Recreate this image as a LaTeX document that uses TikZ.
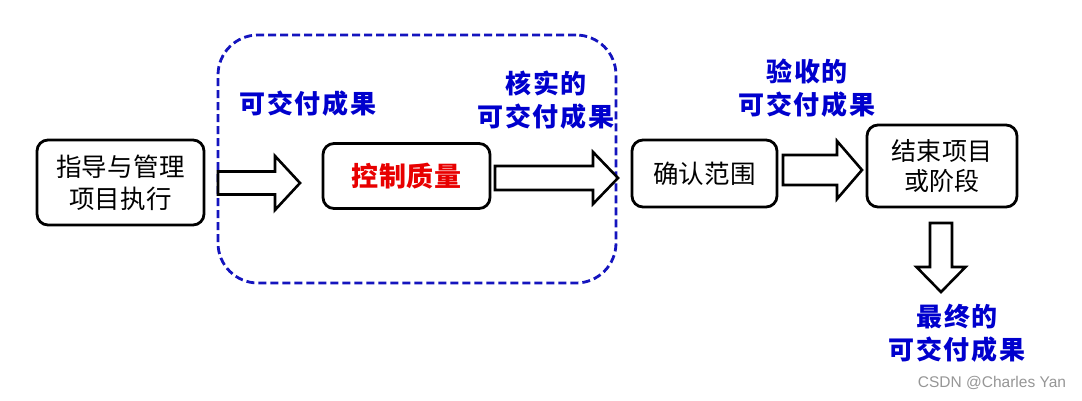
\documentclass[tikz,border=0pt]{standalone}
\usepackage{fontspec}
\setsansfont{Liberation Sans}
\newfontfamily\cjk[LetterSpace=1]{Noto Sans CJK SC}
\newfontfamily\cjkbox[LetterSpace=3]{Noto Sans CJK SC}
\newfontfamily\cjklab[LetterSpace=7]{Noto Sans CJK SC}
\definecolor{dblue}{RGB}{0,0,205}
\definecolor{dashblue}{RGB}{20,20,190}
\definecolor{qred}{RGB}{232,0,0}
\definecolor{wm}{RGB}{150,150,150}
\newcommand{\blkR}[6]{% x1, xb, x2, yc, half shaft, half head
  \draw[blockarrow] (#1,#4-#5) -- (#2,#4-#5) -- (#2,#4-#6) -- (#3,#4) -- (#2,#4+#6) -- (#2,#4+#5) -- (#1,#4+#5) -- cycle;}
\newcommand{\blkD}[6]{% y1, yb, y2, xc, half shaft, half head
  \draw[blockarrow] (#4-#5,#1) -- (#4-#5,#2) -- (#4-#6,#2) -- (#4,#3) -- (#4+#6,#2) -- (#4+#5,#2) -- (#4+#5,#1) -- cycle;}
\begin{document}
\begin{tikzpicture}[x=1pt,y=-1pt,
  procbox/.style={draw=black,line width=2.8pt,rounded corners=11pt,fill=white,align=center,inner sep=0pt},
  blockarrow/.style={draw=black,line width=2.6pt,fill=white,line join=miter},
  bluelab/.style={text=dblue,align=center,font=\cjklab\bfseries\fontsize{26}{33}\selectfont,inner sep=0pt},
  boxtxt/.style={font=\cjk\fontsize{25.5}{32}\selectfont}
]
\useasboundingbox (0,0) rectangle (1082,400);
\fill[white] (0,0) rectangle (1082,400);
% dashed group
\node[draw=dashblue,line width=2.8pt,dash pattern=on 8pt off 4pt,rounded corners=40pt,
  minimum width=398pt,minimum height=248pt,inner sep=0pt] (grp) at (417,159) {};
% boxes
\node[procbox,minimum width=167pt,minimum height=85pt,boxtxt] (b1) at (120.5,182.5) {指导与管理\\项目执行};
\node[procbox,minimum width=167pt,minimum height=65pt,text=qred,font=\cjkbox\bfseries\fontsize{27}{30}\selectfont] (b2) at (406.5,176) {控制质量};
\node[procbox,minimum width=145pt,minimum height=67pt,font=\cjk\fontsize{25.5}{30}\selectfont] (b3) at (704.5,173.5) {确认范围};
\node[procbox,minimum width=150pt,minimum height=82pt,font=\cjk\fontsize{25}{30}\selectfont] (b4) at (942,166) {结束项目\\或阶段};
% block arrows
\blkR{218}{275}{300}{183}{11.5}{27}
\blkR{495}{593}{618}{178}{12}{26}
\blkR{783}{837}{862}{170}{15}{29}
\blkD{223}{267}{292}{941}{11}{24.5}
% labels
\node[bluelab] (l1) at (308,104) {可交付成果};
\node[bluelab] (l2) at (546,100) {核实的\\可交付成果};
\node[bluelab] (l3) at (807,88.5) {验收的\\可交付成果};
\node[bluelab] (l4) at (957,333.5) {最终的\\可交付成果};
\node[text=wm,font=\sffamily\fontsize{15.5}{18}\selectfont,inner sep=0pt] (wmk) at (992,383) {CSDN @Charles Yan};
\end{tikzpicture}
\end{document}
